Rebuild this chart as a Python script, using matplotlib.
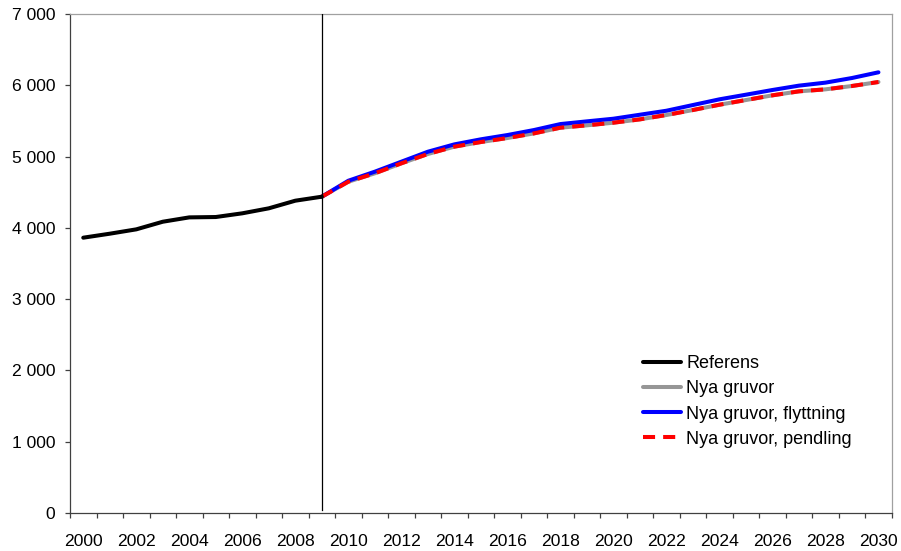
import matplotlib
matplotlib.use("Agg")
import matplotlib.pyplot as plt
from matplotlib.ticker import FuncFormatter, FixedLocator, NullFormatter

plt.rcParams['font.family'] = ['Liberation Sans', 'DejaVu Sans']

# Historical population (Referens)
years_hist = list(range(2000, 2010))
referens = [3862, 3918, 3979, 4086, 4147, 4152, 4204, 4274, 4381, 4437]

# Scenario projections from 2009
years_proj = list(range(2009, 2031))
nya_gruvor = [4437, 4647, 4765, 4905, 5036, 5139, 5204, 5260, 5325, 5405, 5438,
              5475, 5522, 5583, 5653, 5727, 5793, 5859, 5915, 5943, 5990, 6046]
nya_gruvor_flyttning = [4437, 4661, 4788, 4928, 5068, 5171, 5242, 5302, 5372, 5456, 5494,
                        5531, 5587, 5643, 5723, 5803, 5868, 5934, 5995, 6037, 6102, 6182]
nya_gruvor_pendling = [4437, 4647, 4765, 4905, 5036, 5139, 5204, 5260, 5325, 5405, 5438,
                       5475, 5522, 5583, 5653, 5727, 5793, 5859, 5915, 5943, 5990, 6046]

labels = ["Referens", "Nya gruvor", "Nya gruvor, flyttning", "Nya gruvor, pendling"]
label_years = list(range(2000, 2031, 2))
split_year = 2009

fig = plt.figure(figsize=(9.01, 5.51), dpi=100)
ax = fig.add_axes([70 / 901, 38 / 551, 821.7 / 901, 499 / 551])

lw = 2.9
l_ref, = ax.plot(years_hist, referens, color='black', lw=lw, zorder=5,
                 solid_joinstyle='round', solid_capstyle='round')
l_ng, = ax.plot(years_proj, nya_gruvor, color='#969696', lw=lw, zorder=2,
                solid_joinstyle='round', solid_capstyle='round')
l_fl, = ax.plot(years_proj, nya_gruvor_flyttning, color='#0000ff', lw=lw, zorder=3,
                solid_joinstyle='round', solid_capstyle='round')
l_pe, = ax.plot(years_proj, nya_gruvor_pendling, color='#ff0000', lw=lw, zorder=4,
                dashes=(3, 2), dash_capstyle='butt')

ax.axvline(split_year, ymin=0.006, ymax=1, color='black', lw=0.9, zorder=6)

ax.set_xlim(1999.5, 2030.5)
ax.set_ylim(0, 7000)

# Category boundaries carry the tick marks; labels sit at even years
ax.xaxis.set_major_locator(FixedLocator([y - 0.5 for y in range(2000, 2032)]))
ax.xaxis.set_major_formatter(NullFormatter())
ax.xaxis.set_minor_locator(FixedLocator(label_years))
ax.xaxis.set_minor_formatter(FuncFormatter(lambda v, p: f"{int(round(v))}"))
ax.tick_params(axis='x', which='major', direction='out', length=3.6, width=0.9,
               color='#404040')
ax.tick_params(axis='x', which='minor', length=0, pad=15, labelsize=12.6)

ax.set_yticks(range(0, 7001, 1000))
ax.yaxis.set_major_formatter(FuncFormatter(lambda v, p: f"{int(v):,}".replace(",", " ")))
ax.tick_params(axis='y', direction='out', length=3.6, width=0.9, color='#404040',
               pad=7, labelsize=12.6)

for side in ('left', 'bottom'):
    ax.spines[side].set_color('#404040')
    ax.spines[side].set_linewidth(0.9)
for side in ('top', 'right'):
    ax.spines[side].set_color('#a0a0a0')
    ax.spines[side].set_linewidth(0.9)

ax.legend([l_ref, l_ng, l_fl, l_pe], labels, loc='upper left',
          bbox_to_anchor=(0.697, 0.316), frameon=False, fontsize=13,
          handlelength=2.1, handletextpad=0.3, labelspacing=0.45,
          borderpad=0, borderaxespad=0)

fig.savefig("out.png", dpi=100)
